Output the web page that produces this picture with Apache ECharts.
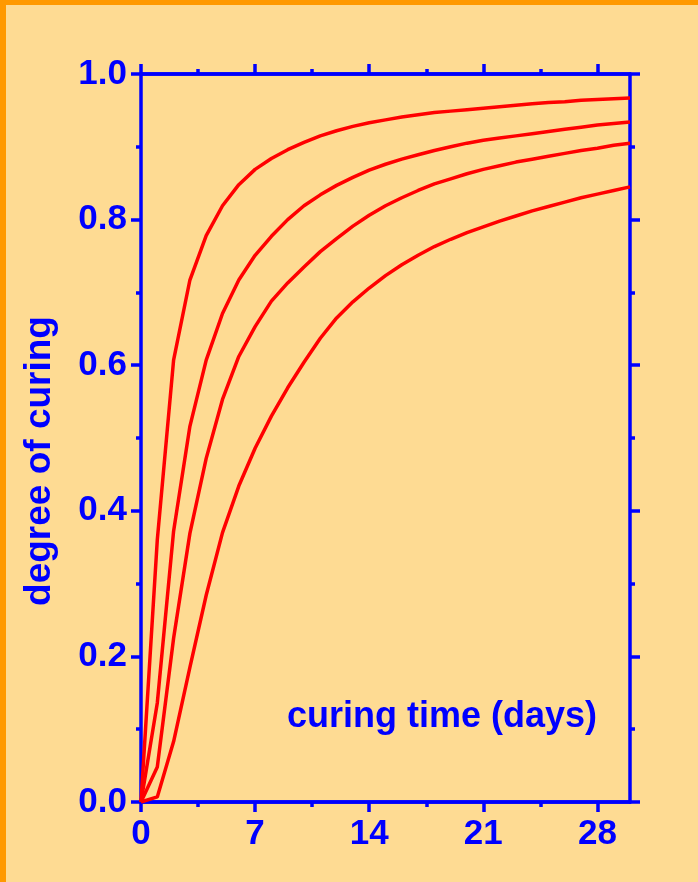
<!DOCTYPE html>
<html>
<head>
<meta charset="utf-8">
<script src="https://cdn.jsdelivr.net/npm/echarts@6/dist/echarts.min.js"></script>
<style>
  html, body { margin: 0; padding: 0; background: #FEDB93; }
  #chart { width: 698px; height: 882px; }
</style>
</head>
<body>
<div id="chart"></div>
<script>
// curing time in days, one point per day
const days = [0, 1, 2, 3, 4, 5, 6, 7, 8, 9, 10, 11, 12, 13, 14, 15, 16, 17, 18, 19, 20, 21, 22, 23, 24, 25, 26, 27, 28, 29, 30]

// degree of curing, four curves (top to bottom)
const curve1 = [0, 0.36, 0.607, 0.717, 0.778, 0.819, 0.848, 0.869, 0.884, 0.896, 0.906, 0.915, 0.922, 0.928, 0.933, 0.937, 0.941, 0.944, 0.947, 0.949, 0.951, 0.953, 0.955, 0.957, 0.959, 0.961, 0.962, 0.964, 0.965, 0.966, 0.967]
const curve2 = [0, 0.136, 0.372, 0.516, 0.607, 0.671, 0.717, 0.751, 0.777, 0.8, 0.819, 0.834, 0.847, 0.858, 0.868, 0.876, 0.883, 0.889, 0.895, 0.9, 0.905, 0.909, 0.912, 0.915, 0.918, 0.921, 0.924, 0.927, 0.93, 0.932, 0.934]
const curve3 = [0, 0.048, 0.225, 0.369, 0.472, 0.553, 0.612, 0.653, 0.688, 0.713, 0.735, 0.756, 0.774, 0.791, 0.806, 0.819, 0.83, 0.84, 0.849, 0.856, 0.863, 0.869, 0.874, 0.879, 0.883, 0.887, 0.891, 0.895, 0.898, 0.902, 0.905]
const curve4 = [0, 0.007, 0.083, 0.185, 0.284, 0.37, 0.434, 0.486, 0.53, 0.569, 0.604, 0.637, 0.665, 0.687, 0.706, 0.723, 0.738, 0.751, 0.763, 0.773, 0.782, 0.79, 0.798, 0.805, 0.812, 0.818, 0.824, 0.83, 0.835, 0.84, 0.845]

const xMajorTicks = [0, 7, 14, 21, 28]
const xMinorTicks = [3.5, 10.5, 17.5, 24.5]

const xName = 'curing time (days)'
const yName = 'degree of curing'

const BLUE = '#0000FF'
const RED = '#FF0000'
const FONT = '"Liberation Sans", Arial, sans-serif'

const chart = echarts.init(document.getElementById('chart'))

const lineStyle = { color: BLUE, width: 3.5 }

function xAxisOf(position, ticks, len, withLabel) {
  return {
    type: 'value',
    position: position,
    min: 0,
    max: 30,
    axisLine: { show: true, onZero: false, lineStyle: lineStyle },
    axisTick: { show: true, length: len, customValues: ticks, lineStyle: lineStyle },
    axisLabel: withLabel
      ? { show: true, customValues: ticks, margin: 15, color: BLUE, fontSize: 35, fontWeight: 'bold', fontFamily: FONT }
      : { show: false },
    splitLine: { show: false },
  }
}

function yAxisOf(position, withLabel) {
  return {
    type: 'value',
    position: position,
    min: 0,
    max: 1,
    interval: 0.2,
    axisLine: { show: true, onZero: false, lineStyle: lineStyle },
    axisTick: { show: true, length: 10, lineStyle: lineStyle },
    minorTick: { show: true, splitNumber: 2, length: 5, lineStyle: lineStyle },
    axisLabel: withLabel
      ? { show: true, margin: 14, color: BLUE, fontSize: 35, fontWeight: 'bold', fontFamily: FONT, formatter: (v) => v.toFixed(1) }
      : { show: false },
    splitLine: { show: false },
    minorSplitLine: { show: false },
  }
}

function curveSeries(values) {
  return {
    type: 'line',
    xAxisIndex: 0,
    yAxisIndex: 0,
    data: days.map((d, i) => [d, values[i]]),
    symbol: 'none',
    smooth: false,
    lineStyle: { color: RED, width: 3.5 },
    z: 1,
  }
}

const option = {
  backgroundColor: '#FEDB93',
  animation: false,
  grid: { left: 141, right: 68, top: 74, bottom: 80 },
  xAxis: [
    xAxisOf('bottom', xMajorTicks, 10, true),
    xAxisOf('bottom', xMinorTicks, 5, false),
    xAxisOf('top', xMajorTicks, 10, false),
    xAxisOf('top', xMinorTicks, 5, false),
  ],
  yAxis: [yAxisOf('left', true), yAxisOf('right', false)],
  series: [curveSeries(curve1), curveSeries(curve2), curveSeries(curve3), curveSeries(curve4)],
  graphic: [
    // orange frame at the top and left edges
    { type: 'rect', left: 0, top: 0, shape: { width: 698, height: 5 }, style: { fill: '#FF9900' } },
    { type: 'rect', left: 0, top: 0, shape: { width: 6, height: 882 }, style: { fill: '#FF9900' } },
    {
      type: 'text',
      x: 597,
      y: 717,
      style: { text: xName, textAlign: 'right', textVerticalAlign: 'middle', fill: BLUE, font: 'bold 36px ' + FONT },
    },
    {
      type: 'text',
      x: 40,
      y: 461,
      rotation: Math.PI / 2,
      style: { text: yName, textAlign: 'center', textVerticalAlign: 'middle', fill: BLUE, font: 'bold 37px ' + FONT },
    },
  ],
}

chart.setOption(option)
</script>
</body>
</html>
